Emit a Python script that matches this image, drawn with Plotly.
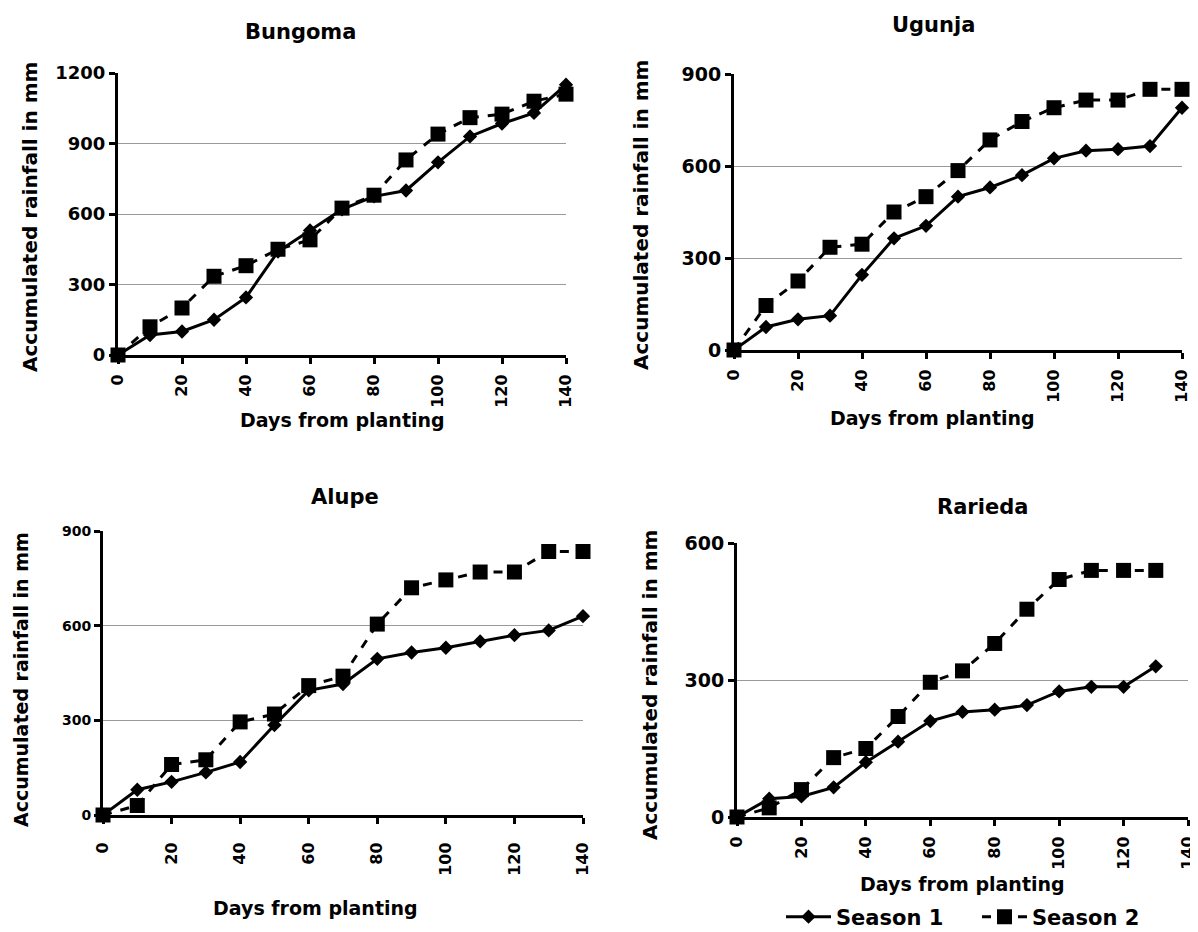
import plotly.graph_objects as go

days = [0, 10, 20, 30, 40, 50, 60, 70, 80, 90, 100, 110, 120, 130, 140]
days_rarieda = [0, 10, 20, 30, 40, 50, 60, 70, 80, 90, 100, 110, 120, 130]

bungoma_s1 = [0, 85, 100, 150, 245, 440, 530, 620, 675, 700, 820, 930, 985, 1030, 1150]
bungoma_s2 = [0, 120, 200, 335, 380, 450, 490, 625, 680, 830, 940, 1010, 1025, 1080, 1110]

ugunja_s1 = [0, 75, 100, 112, 245, 364, 405, 500, 530, 570, 625, 650, 655, 665, 790]
ugunja_s2 = [0, 145, 225, 335, 345, 450, 500, 585, 685, 745, 790, 815, 815, 850, 850]

alupe_s1 = [0, 80, 105, 135, 168, 285, 395, 415, 495, 515, 530, 550, 570, 585, 630]
alupe_s2 = [0, 30, 160, 175, 295, 320, 410, 440, 605, 720, 745, 770, 770, 835, 835]

rarieda_s1 = [0, 40, 45, 65, 120, 165, 210, 230, 235, 245, 275, 285, 285, 330]
rarieda_s2 = [0, 20, 60, 130, 150, 220, 295, 320, 380, 455, 520, 540, 540, 540]

x_ticks = [0, 20, 40, 60, 80, 100, 120, 140]
x_tick_labels = ["0", "20", "40", "60", "80", "100", "120", "140"]

titles = ["Bungoma", "Ugunja", "Alupe", "Rarieda"]
series_names = ["Season 1", "Season 2"]
y_title = "Accumulated rainfall in mm"
x_title = "Days from planting"

# The page body has an 8px margin, so the figure is drawn 8px in from the
# window's top-left corner; positions below are window pixels.
OFF = 8
W, H = 1190, 924
FONT = "DejaVu Sans"


def fx(px):
    return (px - OFF) / W


def fy(py):
    return 1 - (py - OFF) / H


# pixel boxes of each plot area: (left, right, top, bottom)
panels = [
    dict(box=(118, 566, 73, 355), ymax=1200, x=days, s1=bungoma_s1, s2=bungoma_s2,
         title_xy=(300, 32), xt_xy=(342, 420), yt_xy=(30, 217), tfs=18, xstand=4, ytf=20),
    dict(box=(734, 1182, 74, 350), ymax=900, x=days, s1=ugunja_s1, s2=ugunja_s2,
         title_xy=(933, 25), xt_xy=(932, 418), yt_xy=(641, 215), tfs=19, xstand=4, ytf=20),
    dict(box=(103, 583, 531, 815), ymax=900, x=days, s1=alupe_s1, s2=alupe_s2,
         title_xy=(345, 497), xt_xy=(315, 908), yt_xy=(21, 680), tfs=14, xstand=12, ytf=19),
    dict(box=(737, 1188, 543, 817), ymax=600, x=days_rarieda, s1=rarieda_s1, s2=rarieda_s2,
         title_xy=(982, 507), xt_xy=(962, 884), yt_xy=(650, 685), tfs=19, xstand=4, ytf=20),
]

fig = go.Figure()
annotations = []

for i, p in enumerate(panels):
    n = "" if i == 0 else str(i + 1)
    xa, ya = "x" + n, "y" + n
    l, r, t, b = p["box"]
    fig.add_trace(go.Scatter(
        x=p["x"], y=p["s1"], xaxis=xa, yaxis=ya, name=series_names[0],
        mode="lines+markers", line=dict(color="black", width=3),
        marker=dict(symbol="diamond", size=11, color="black"),
        showlegend=(i == 0), legendgroup="s1", cliponaxis=False))
    fig.add_trace(go.Scatter(
        x=p["x"], y=p["s2"], xaxis=xa, yaxis=ya, name=series_names[1],
        mode="lines+markers", line=dict(color="black", width=3, dash="dash"),
        marker=dict(symbol="square", size=15, color="black"),
        showlegend=(i == 0), legendgroup="s2", cliponaxis=False))

    xkey = "xaxis" + n
    ykey = "yaxis" + n
    fig.update_layout(**{
        xkey: dict(domain=[fx(l), fx(r)], anchor=ya, range=[0, 140],
                   tickvals=x_ticks, ticktext=x_tick_labels, tickangle=-90,
                   showline=True, linecolor="black", linewidth=3,
                   ticks="outside", ticklen=6, tickwidth=3, tickcolor="black",
                   showgrid=False, zeroline=False, automargin=False,
                   ticklabelstandoff=p["xstand"],
                   tickfont=dict(family=FONT, size=16, color="black", weight="bold")),
        ykey: dict(domain=[fy(b), fy(t)], anchor=xa, range=[0, p["ymax"]],
                   dtick=300, showline=True, linecolor="black", linewidth=3,
                   ticks="outside", ticklen=6, tickwidth=3, tickcolor="black",
                   showgrid=True, gridcolor="#9a9a9a", gridwidth=1, zeroline=False,
                   automargin=False,
                   tickfont=dict(family=FONT, size=p["tfs"], color="black", weight="bold")),
    })

    tx, ty = p["title_xy"]
    annotations.append(dict(text="<b>" + titles[i] + "</b>", x=fx(tx), y=fy(ty),
                            xref="paper", yref="paper", showarrow=False,
                            xanchor="center", yanchor="middle",
                            font=dict(family=FONT, size=21, color="black")))
    xx, xy = p["xt_xy"]
    annotations.append(dict(text="<b>" + x_title + "</b>", x=fx(xx), y=fy(xy),
                            xref="paper", yref="paper", showarrow=False,
                            xanchor="center", yanchor="middle",
                            font=dict(family=FONT, size=19, color="black")))
    yx, yy = p["yt_xy"]
    annotations.append(dict(text="<b>" + y_title + "</b>", x=fx(yx), y=fy(yy),
                            xref="paper", yref="paper", showarrow=False, textangle=-90,
                            xanchor="center", yanchor="middle",
                            font=dict(family=FONT, size=p["ytf"], color="black")))

fig.update_layout(
    width=W, height=H,
    margin=dict(l=0, r=0, t=0, b=0, pad=0, autoexpand=False),
    paper_bgcolor="white", plot_bgcolor="white",
    annotations=annotations,
    showlegend=True,
    legend=dict(orientation="h", x=fx(781), y=fy(917), xanchor="left", yanchor="middle",
                font=dict(family=FONT, size=21, color="black", weight="bold"),
                itemwidth=45, entrywidth=136, entrywidthmode="pixels",
                bgcolor="rgba(0,0,0,0)"),
)

fig.write_html("out.html")
